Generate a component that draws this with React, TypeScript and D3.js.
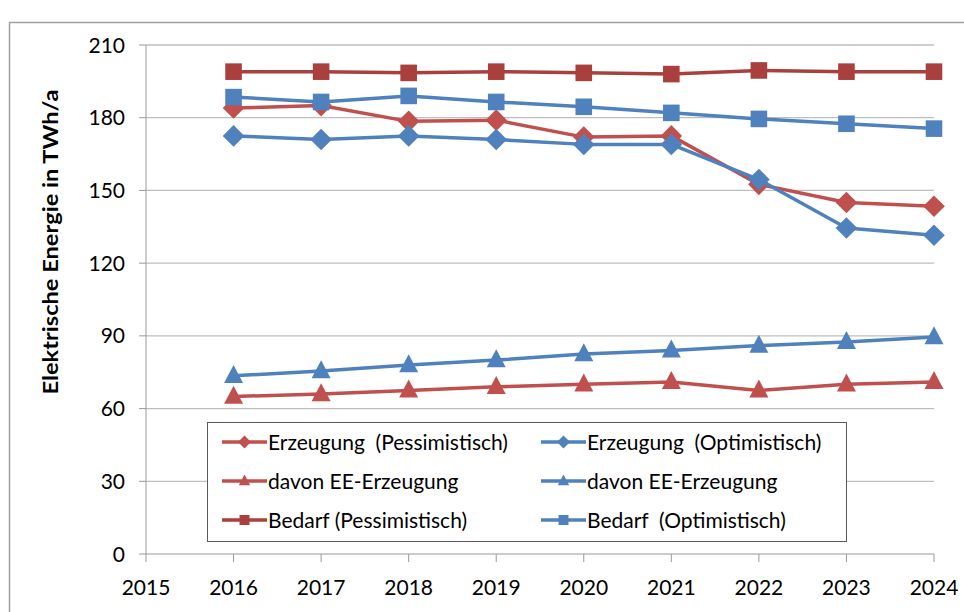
import React from "react";
import * as d3 from "d3";

const years = [2016, 2017, 2018, 2019, 2020, 2021, 2022, 2023, 2024];
const xTicks = [2015, 2016, 2017, 2018, 2019, 2020, 2021, 2022, 2023, 2024];
const yTicks = [0, 30, 60, 90, 120, 150, 180, 210];

const erzeugungPess = [184, 185, 178.5, 179, 172, 172.5, 152.5, 145, 143.5];
const erzeugungOpt = [172.5, 171, 172.5, 171, 169, 169, 154.5, 134.5, 131.5];
const eePess = [65, 66, 67.5, 69, 70, 71, 67.5, 70, 71];
const eeOpt = [73.5, 75.5, 78, 80, 82.5, 84, 86, 87.5, 89.5];
const bedarfPess = [199, 199, 198.5, 199, 198.5, 198, 199.5, 199, 199];
const bedarfOpt = [188.5, 186.5, 189, 186.5, 184.5, 182, 179.5, 177.5, 175.5];

const RED = "#C0504D";
const DARKRED = "#A9403E";
const BLUE = "#4F81BD";

type Marker = "diamond" | "triangle" | "square";

const series: { name: string; values: number[]; color: string; marker: Marker }[] = [
  { name: "Erzeugung  (Pessimistisch)", values: erzeugungPess, color: RED, marker: "diamond" },
  { name: "Erzeugung  (Optimistisch)", values: erzeugungOpt, color: BLUE, marker: "diamond" },
  { name: "davon EE-Erzeugung", values: eePess, color: RED, marker: "triangle" },
  { name: "davon EE-Erzeugung", values: eeOpt, color: BLUE, marker: "triangle" },
  { name: "Bedarf (Pessimistisch)", values: bedarfPess, color: DARKRED, marker: "square" },
  { name: "Bedarf  (Optimistisch)", values: bedarfOpt, color: BLUE, marker: "square" },
];

const margin = { left: 146, right: 30, top: 45, bottom: 58 };
const W = 964;
const H = 612;
const FONT = "Lato, 'Open Sans', sans-serif";

// marker outline, k = scale (1 for plot, ~0.55 for legend)
const markerPath = (m: Marker, k: number) => {
  const p = d3.path();
  if (m === "diamond") {
    const r = 10.8 * k;
    p.moveTo(0, -r);
    p.lineTo(r, 0);
    p.lineTo(0, r);
    p.lineTo(-r, 0);
  } else if (m === "triangle") {
    const w = 9.5 * k;
    const h = 18 * k;
    p.moveTo(0, -h * 0.6);
    p.lineTo(w, h * 0.4);
    p.lineTo(-w, h * 0.4);
  } else {
    const s = 8.3 * k;
    p.rect(-s, -s, 2 * s, 2 * s);
  }
  p.closePath();
  return p.toString();
};

export default function App() {
  const x = d3.scaleLinear().domain([2015, 2024]).range([margin.left, W - margin.right]);
  const y = d3.scaleLinear().domain([0, 210]).range([H - margin.bottom, margin.top]);
  const line = d3
    .line<number>()
    .x((_, i) => x(years[i]))
    .y((v) => y(v));

  const legend = { x: 207, y: 422, w: 639, h: 119 };
  const colX = [222, 541];
  const rowY = [442, 481, 520];

  return (
    <div style={{ position: "fixed", left: 0, top: 0 }}>
      <svg width={W} height={H} style={{ display: "block", background: "#fff" }}>
        {/* chart frame */}
        <path d={`M9.5,${H} V22.5 H${W}`} fill="none" stroke="#A0A0A0" strokeWidth={1.5} />

        {/* gridlines */}
        {yTicks.filter((t) => t > 0).map((t) => (
          <line key={t} x1={x(2015)} x2={x(2024)} y1={y(t)} y2={y(t)} stroke="#BEBEBE" strokeWidth={1.3} />
        ))}

        {/* axes */}
        <line x1={x(2015)} x2={x(2015)} y1={y(210)} y2={y(0)} stroke="#9A9A9A" />
        <line x1={x(2015)} x2={x(2024)} y1={y(0)} y2={y(0)} stroke="#9A9A9A" />
        {yTicks.map((t) => (
          <g key={t}>
            <line x1={x(2015) - 7} x2={x(2015)} y1={y(t)} y2={y(t)} stroke="#9A9A9A" />
            <text x={x(2015) - 21} y={y(t)} dy="0.36em" textAnchor="end" fontFamily={FONT} fontSize={21} fill="#000">
              {t}
            </text>
          </g>
        ))}
        {xTicks.map((t) => (
          <g key={t}>
            <line x1={x(t)} x2={x(t)} y1={y(0)} y2={y(0) + 8} stroke="#9A9A9A" />
            <text x={x(t)} y={y(0) + 41} textAnchor="middle" fontFamily={FONT} fontSize={21} fill="#000">
              {t}
            </text>
          </g>
        ))}
        <text
          transform={`translate(58,242) rotate(-90)`}
          textAnchor="middle"
          fontFamily={FONT}
          fontSize={21}
          fontWeight="bold"
          textLength={305}
          lengthAdjust="spacingAndGlyphs"
          fill="#000"
        >
          Elektrische Energie in TWh/a
        </text>

        {/* series */}
        {series.map((s, si) => (
          <g key={si}>
            <path d={line(s.values) || ""} fill="none" stroke={s.color} strokeWidth={3.5} strokeLinejoin="round" />
            {s.values.map((v, i) => (
              <path key={i} d={markerPath(s.marker, 1)} transform={`translate(${x(years[i])},${y(v)})`} fill={s.color} />
            ))}
          </g>
        ))}

        {/* legend */}
        <rect x={legend.x + 0.5} y={legend.y + 0.5} width={legend.w} height={legend.h} fill="#fff" stroke="#5A5A5A" strokeWidth={1} />
        {series.map((s, i) => {
          const cx = colX[i % 2];
          const cy = rowY[Math.floor(i / 2)];
          return (
            <g key={i}>
              <line x1={cx} x2={cx + 45} y1={cy} y2={cy} stroke={s.color} strokeWidth={3.5} />
              <path d={markerPath(s.marker, 0.6)} transform={`translate(${cx + 22.5},${cy})`} fill={s.color} />
              <text
                x={cx + 46}
                y={cy}
                dy="0.36em"
                fontFamily={FONT}
                fontSize={21}
                fill="#000"
                style={{ whiteSpace: "pre" }}
              >
                {s.name}
              </text>
            </g>
          );
        })}
      </svg>
    </div>
  );
}
